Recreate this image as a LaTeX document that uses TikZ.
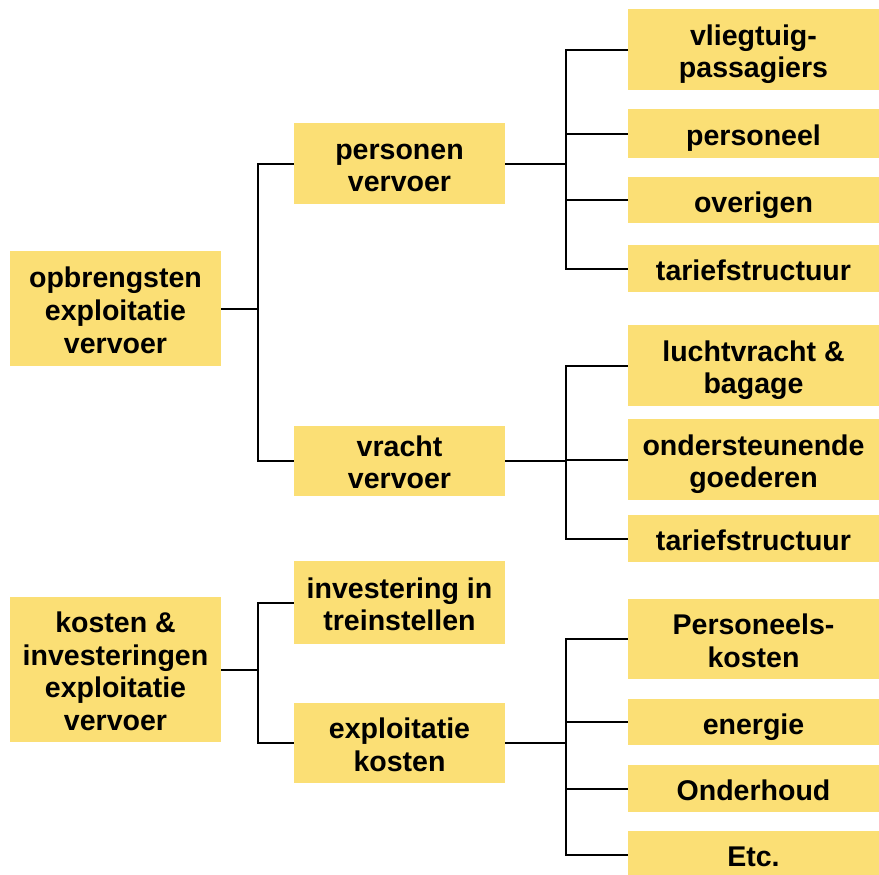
\documentclass[tikz,border=0pt]{standalone}
\usepackage{fontspec}
\setmainfont{Liberation Sans}
\usetikzlibrary{calc}
\definecolor{boxyellow}{RGB}{251,223,117}
% vaste hoogte boven en diepte onder de tekst in een blok
\newcommand\boven{\rule{0pt}{23pt}}
\newcommand\onder{\rule[-5pt]{0pt}{5pt}}

\begin{document}
\begin{tikzpicture}[x=0.75pt,y=-0.75pt,
        blok/.style={fill=boxyellow,inner sep=0pt,outer sep=0pt,align=center,
            font=\fontsize{21.4}{24.5}\selectfont\bfseries},
        tak/.style={line width=1.5pt,black}]
            \useasboundingbox (0,0) rectangle (879,875);
            % linker kolom
            \node[blok,minimum width=211*0.75pt,minimum height=115*0.75pt] (opbr) at (115.5,308.5) {\boven opbrengsten\\exploitatie\\vervoer\onder};
            \node[blok,minimum width=211*0.75pt,minimum height=145*0.75pt] (kost) at (115.5,669.5) {\boven kosten \&\\investeringen\\exploitatie\\vervoer\onder};

            % middelste kolom
            \foreach \naam/\y/\h/\tekst in {persv/163.5/81/{personen\\vervoer},vrachtv/460.5/67/{vracht\\vervoer},
                invest/602.5/83/{investering in\\treinstellen},explk/743/80/{exploitatie\\kosten}} {
            \node[blok,minimum width=211*0.75pt,minimum height=\h*0.75pt] (\naam) at (399.5,\y) {\boven\tekst\onder};}

            % rechter kolom
            \foreach \naam/\y/\h/\tekst in {vlieg/49.5/81/{vliegtuig-\\passagiers},persl/133.5/49/personeel,
                overig/200/46/overigen,tarief1/268.5/47/tariefstructuur,lucht/365.5/81/{luchtvracht \&\\bagage},
                onder/459.5/81/{ondersteunende\\goederen},tarief2/538.5/47/tariefstructuur,
                perskost/639/80/{Personeels-\\kosten},energie/722/46/energie,onderh/788.5/47/Onderhoud,etc/854.5/47/Etc.} {
            \node[blok,minimum width=251*0.75pt,minimum height=\h*0.75pt] (\naam) at (753.5,\y) {\boven\tekst\onder};}

            \foreach \k in {persv,vrachtv} {\draw[tak] (opbr.east) -- ++(37,0) |- (\k.west);}
            \foreach \k in {invest,explk} {\draw[tak] (kost.east) -- ++(37,0) |- (\k.west);}
            \foreach \k in {vlieg,persl,overig,tarief1} {\draw[tak] (persv.east) -- ++(61,0) |- (\k.west);}
            \foreach \k in {lucht,onder,tarief2} {\draw[tak] (vrachtv.east) -- ++(61,0) |- (\k.west);}
            \foreach \k in {perskost,energie,onderh,etc} {\draw[tak] (explk.east) -- ++(61,0) |- (\k.west);}
        \end{tikzpicture}
\end{document}
